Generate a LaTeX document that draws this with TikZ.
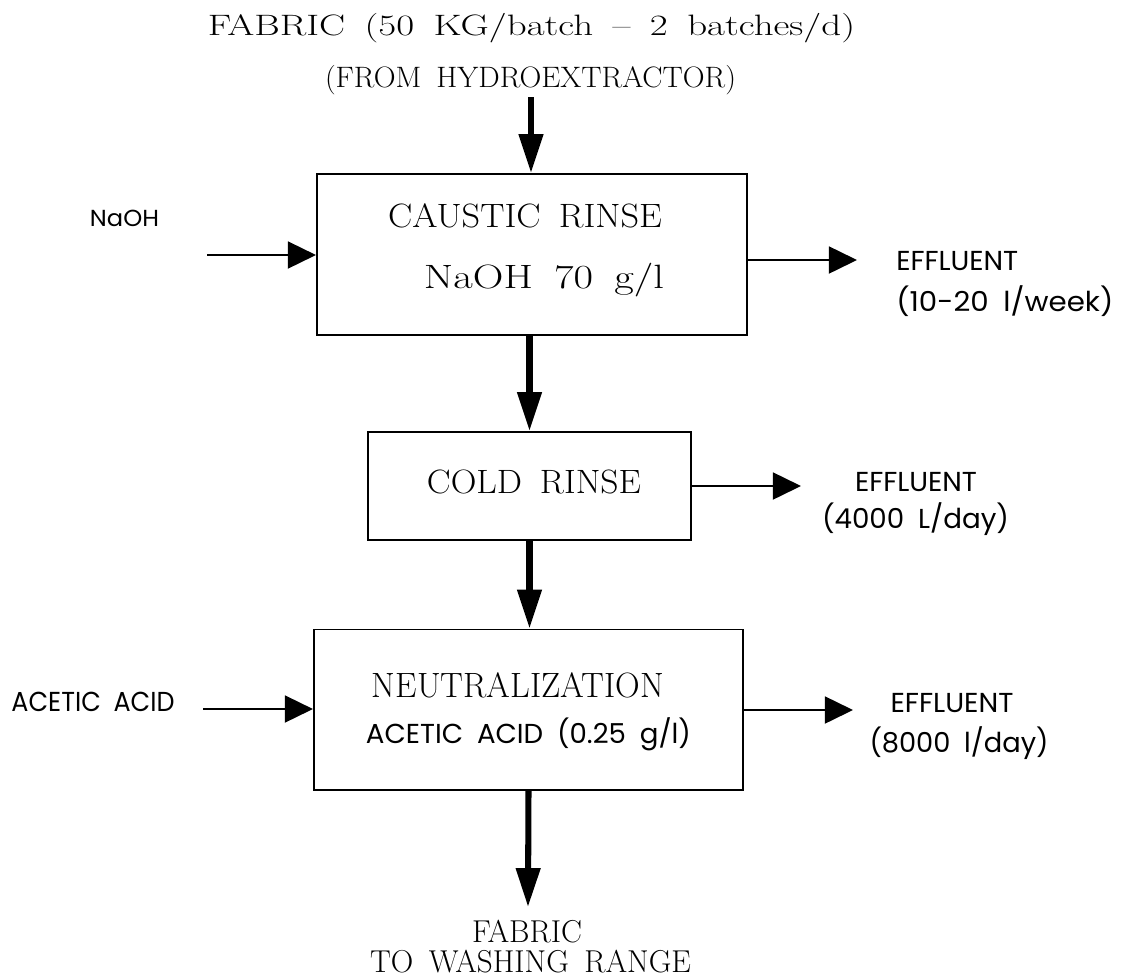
\documentclass[tikz,border=0pt]{standalone}
\usepackage{fontspec}
\usepackage{graphicx}
\newfontfamily\gothic{Poppins}
\usetikzlibrary{arrows.meta,calc}
\newlength\pxu
\setlength\pxu{0.025cm}
\newcommand\fitto[2]{\resizebox{#1\pxu}{\height}{#2}}

\begin{document}
\begin{tikzpicture}[x=0.025cm,y=-0.025cm,
  StepBox/.style={draw,line width=1.4pt,inner sep=0pt},
  MainFlow/.style={line width=4.3pt,-{Triangle[length=27.7pt,width=16.7pt]}},
  SideFlow/.style={line width=1.4pt,-{Triangle[length=20pt,width=19.2pt]}},
  SerifTxt/.style={inner sep=0pt,anchor=base,font=\fontsize{24}{28}\selectfont\spaceskip 0.5em\relax},
  SansTxt/.style={inner sep=0pt,anchor=base,font=\gothic\fontsize{19.5}{23}\selectfont\spaceskip 0.5em\relax}]
\useasboundingbox (0,0) rectangle (1126,976);

\coordinate (feed) at (531,97);
\coordinate (product) at (528,907);
\coordinate (naohIn) at (207,255);
\coordinate (acidIn) at (203,709);
\coordinate (effA) at (857,260);
\coordinate (effB) at (801,486);
\coordinate (effC) at (853,710);

\node[StepBox,minimum width=10.75cm,minimum height=4.025cm] (caustic) at (532,254.5) {};
\node[StepBox,minimum width=8.075cm,minimum height=2.7cm] (cold) at (529.5,486) {};
\node[StepBox,minimum width=10.725cm,minimum height=4.0125cm] (neutral) at (528.5,709.75) {};

\node[SerifTxt,font=\fontsize{21}{25}\selectfont\spaceskip 0.5em\relax] (fabricIn) at (531.5,35) {\fitto{647}{FABRIC (50 KG/batch -- 2 batches/d)}};
\node[SerifTxt,font=\fontsize{21}{25}\selectfont\spaceskip 0.5em\relax] (source) at (530.5,87) {\fitto{411}{(FROM HYDROEXTRACTOR)}};
\node[SerifTxt] (causticTxt) at (525,227.5) {\fitto{274}{CAUSTIC RINSE}};
\node[SerifTxt] (naohConc) at (544,288.5) {\fitto{240}{NaOH 70 g/l}};
\node[SerifTxt] (coldTxt) at (534,493) {\fitto{214}{COLD RINSE}};
\node[SerifTxt,font=\fontsize{25}{30}\selectfont] (neutralTxt) at (518,697) {\fitto{292}{NEUTRALIZATION}};
\node[SansTxt] (acidConc) at (528.5,743) {\fitto{325}{ACETIC ACID (0.25 g/l)}};
\node[SerifTxt,font=\fontsize{22.5}{27}\selectfont] (fabricOut) at (527,942) {\fitto{110}{FABRIC}};
\node[SerifTxt,font=\fontsize{22.5}{27}\selectfont\spaceskip 0.5em\relax] (washing) at (530.5,972) {\fitto{321}{TO WASHING RANGE}};

\node[SansTxt,font=\gothic\fontsize{16.5}{20}\selectfont] (naohLbl) at (124.5,226) {\fitto{69}{NaOH}};
\node[SansTxt] (acidLbl) at (93,711) {\fitto{163}{ACETIC ACID}};
\node[SansTxt,anchor=base west] (effAtxt) at (896,270) {\fitto{122}{EFFLUENT}};
\node[SansTxt,anchor=base west] (effArate) at (896,311) {\fitto{217}{(10-20 l/week)}};
\node[SansTxt] (effBtxt) at (916,491.5) {\fitto{122}{EFFLUENT}};
\node[SansTxt] (effBrate) at (915.5,528) {\fitto{187}{(4000 L/day)}};
\node[SansTxt] (effCtxt) at (952,712.5) {\fitto{123}{EFFLUENT}};
\node[SansTxt] (effCrate) at (959,752) {\fitto{179}{(8000 l/day)}};

\draw[MainFlow] (feed) -- (feed |- caustic.north);
\draw[MainFlow] (cold.north |- caustic.south) -- (cold.north);
\draw[MainFlow] (cold.south) -- (cold.south |- neutral.north);
\draw[MainFlow] (neutral.south) -- (product);

\draw[SideFlow] (naohIn) -- (naohIn -| caustic.west);
\draw[SideFlow] (acidIn) -- (acidIn -| neutral.west);
\draw[SideFlow] (effA -| caustic.east) -- (effA);
\draw[SideFlow] (effB -| cold.east) -- (effB);
\draw[SideFlow] (effC -| neutral.east) -- (effC);
\end{tikzpicture}
\end{document}
